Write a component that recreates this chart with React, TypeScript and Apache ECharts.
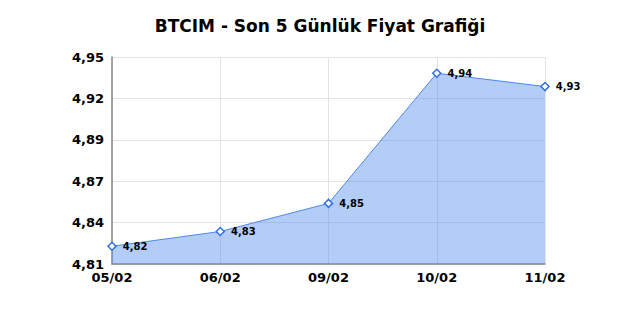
import React, { useEffect, useRef } from "react";
import * as echarts from "echarts";

const categories = ["05/02", "06/02", "09/02", "10/02", "11/02"];
const prices = [4.822, 4.832, 4.851, 4.939, 4.93];
const yTickLabels = ["4,81", "4,84", "4,87", "4,89", "4,92", "4,95"];
const yMin = 4.81;
const yMax = 4.95;

export default function App() {
  const ref = useRef<HTMLDivElement>(null);
  useEffect(() => {
    if (!ref.current) return;
    const chart = echarts.init(ref.current, null, { renderer: "svg" });
    const font = "DejaVu Sans";
    chart.setOption({
      animation: false,
      backgroundColor: "#ffffff",
      title: {
        text: "BTCIM - Son 5 Günlük Fiyat Grafiği",
        left: "center",
        top: 12,
        textStyle: { fontFamily: font, fontSize: 17, fontWeight: "bold", color: "#000" },
      },
      grid: { left: 112, right: 95, top: 57, bottom: 56, containLabel: false },
      xAxis: {
        type: "category",
        data: categories,
        boundaryGap: false,
        axisLine: { lineStyle: { color: "#888", width: 1.5 } },
        axisTick: { show: false },
        axisLabel: { fontFamily: font, fontSize: 13, fontWeight: "bold", color: "#000", margin: 7 },
        splitLine: { show: true, lineStyle: { color: "#e3e3e3" } },
      },
      yAxis: [
        {
          type: "value",
          min: 0,
          max: yTickLabels.length - 1,
          interval: 1,
          axisLine: { show: true, lineStyle: { color: "#888", width: 1.5 } },
          axisTick: { show: false },
          axisLabel: {
            fontFamily: font,
            fontSize: 13,
            fontWeight: "bold",
            color: "#000",
            margin: 8,
            formatter: (v: number) => yTickLabels[Math.round(v)] ?? "",
          },
          splitLine: { show: true, lineStyle: { color: "#e3e3e3" } },
        },
        {
          type: "value",
          min: yMin,
          max: yMax,
          show: false,
          splitLine: { show: false },
        },
      ],
      series: [
        {
          type: "line",
          yAxisIndex: 1,
          data: prices,
          symbol: "diamond",
          symbolSize: 8,
          showAllSymbol: true,
          lineStyle: { color: "#4a89ee", width: 1 },
          itemStyle: { color: "#ffffff", borderColor: "#2f6fe8", borderWidth: 1.5 },
          areaStyle: { color: "rgb(80,140,235)", opacity: 0.43, origin: "start" },
          label: {
            show: true,
            position: "right",
            distance: 6,
            fontFamily: font,
            fontSize: 10,
            fontWeight: "bold",
            color: "#000",
            formatter: (p: any) => Number(p.value).toFixed(2).replace(".", ","),
          },
        },
      ],
    });
    return () => chart.dispose();
  }, []);
  return <div ref={ref} style={{ width: 640, height: 320, margin: -8 }} />;
}
